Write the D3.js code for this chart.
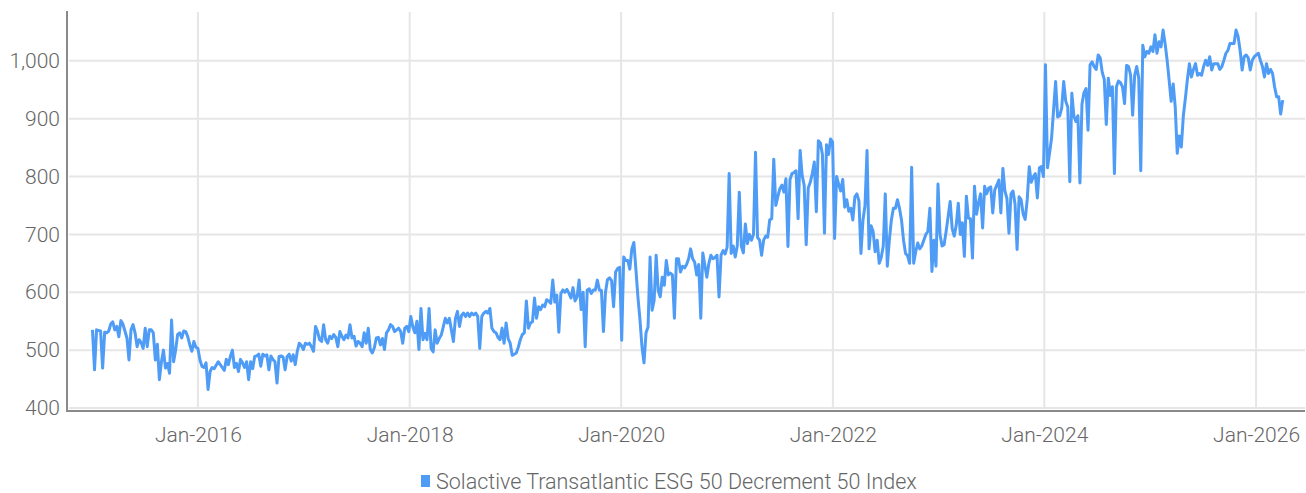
<!DOCTYPE html>
<html>
<head>
<meta charset="utf-8">
<script src="https://cdn.jsdelivr.net/npm/d3@7"></script>
<style>
  html, body { margin: 0; padding: 0; background: #fff; }
  svg { display: block; }
  text { font-family: Roboto, "Noto Sans", sans-serif; font-weight: 300; fill: #666; }
</style>
</head>
<body>
<svg id="chart" width="1306" height="493"></svg>
<script>
// ---- data (weekly closing values) ----
const seriesName = "Solactive Transatlantic ESG 50 Decrement 50 Index";
const firstDate = "2015-01-02"; // weekly observations from this date
const v2015 = [535,466,535,534,533,469,531,530,533,545,549,535,541,523,551,545,533,521,483,535,544,530,506,518,513,503,538,506,535,535,530,483,510,449,480,500,469,477,460,552,480,500,527,530,521,533,532,523,509,498,515,505];
const v2016 = [503,483,472,470,478,432,463,470,468,474,480,475,470,465,484,475,489,500,470,477,463,484,478,470,480,449,480,468,489,490,493,472,493,490,492,466,490,484,480,443,489,490,488,466,489,493,481,492,475,498,512,508,501];
const v2017 = [512,510,512,506,498,541,532,518,515,544,518,512,524,520,527,522,506,532,524,518,526,521,544,521,524,507,515,512,506,530,512,538,501,495,504,521,522,509,520,501,530,535,544,541,532,535,538,532,512,538,541,532];
const v2018 = [558,540,530,550,501,572,518,529,518,572,503,497,535,512,520,526,540,555,547,555,535,515,555,567,541,560,564,558,564,558,564,561,564,558,503,558,564,567,564,572,538,532,530,522,518,538,512,547,520,512,491,493];
const v2019 = [495,505,518,527,530,585,538,547,549,590,555,575,570,578,575,587,585,581,621,583,595,531,598,604,600,605,598,590,608,585,592,621,570,600,506,604,606,598,604,604,621,604,603,532,600,622,625,620,575,635,641,643];
const v2020 = [517,661,655,655,640,675,686,640,592,553,506,478,530,540,661,569,586,664,603,592,626,612,655,630,633,630,555,658,658,635,645,642,648,658,675,658,652,630,648,555,668,647,626,650,664,658,660,664,592,664,672,666,678];
const v2021 = [805,667,680,661,680,773,680,668,718,684,700,690,700,842,695,690,664,690,697,695,725,727,830,750,765,779,785,773,796,679,795,805,807,810,727,845,802,785,682,780,790,805,825,739,862,858,838,702,855,838,865,860,693];
const v2022 = [800,787,775,795,747,760,740,745,725,765,770,758,667,725,750,845,675,715,705,670,690,650,660,680,770,645,690,725,745,745,760,745,725,690,667,663,650,816,650,670,685,675,680,690,700,705,745,636,690,645,787,700];
const v2023 = [680,682,705,731,757,710,697,716,754,700,720,662,766,728,727,659,783,735,755,770,711,783,770,780,782,737,777,785,794,737,814,775,762,702,770,775,752,674,765,760,735,726,760,817,790,800,805,763,815,817,800,993];
const v2024 = [815,840,866,915,964,903,905,918,964,930,920,791,944,905,895,905,789,925,945,952,880,993,998,990,985,1010,1005,980,968,890,970,940,955,805,955,965,962,955,926,992,990,975,906,975,990,970,810,1027,1007,1016,1013,1024];
const v2025 = [1016,1045,1013,1033,1024,1053,1030,1001,966,930,960,920,840,870,851,905,935,968,995,972,985,995,975,978,975,990,1001,992,1007,984,995,995,995,985,990,1001,1013,1018,1030,1030,1030,1053,1042,1018,984,1007,1010,1005,984,1001,1007,1010];
const v2026 = [1013,1001,990,972,995,978,985,978,955,938,938,908,932];

const yTickValues = [400, 500, 600, 700, 800, 900, 1000];
const xTickDates = ["2016-01-01", "2018-01-01", "2020-01-01", "2022-01-01", "2024-01-01", "2026-01-01"];
const xTickLabels = ["Jan-2016", "Jan-2018", "Jan-2020", "Jan-2022", "Jan-2024", "Jan-2026"];

// ---- build ----
const parse = d3.timeParse("%Y-%m-%d");
const start = parse(firstDate);
const allValues = [].concat(v2015, v2016, v2017, v2018, v2019, v2020, v2021, v2022, v2023, v2024, v2025, v2026);
const data = allValues.map((v, i) => ({ date: d3.timeDay.offset(start, 7 * i), value: v }));

const svg = d3.select("#chart");
const lineColor = "#4f9cf6";

const x = d3.scaleTime()
  .domain([parse("2014-10-06"), parse("2026-06-19")])
  .range([67, 1305]);
const y = d3.scaleLinear()
  .domain([400, 1086])
  .range([408, 11]);

// gridlines
const grid = svg.append("g");
grid.selectAll("line.h").data(yTickValues).enter().append("line")
  .attr("x1", 69).attr("x2", 1305)
  .attr("y1", d => y(d)).attr("y2", d => y(d))
  .attr("stroke", "#e6e6e6").attr("stroke-width", 2);
grid.selectAll("line.v").data(xTickDates).enter().append("line")
  .attr("x1", d => x(parse(d))).attr("x2", d => x(parse(d)))
  .attr("y1", 12).attr("y2", 408)
  .attr("stroke", "#e6e6e6").attr("stroke-width", 2);

// series line
const line = d3.line().x(d => x(d.date)).y(d => y(d.value));
svg.append("path").datum(data)
  .attr("fill", "none")
  .attr("stroke", lineColor)
  .attr("stroke-width", 3)
  .attr("stroke-linejoin", "round")
  .attr("d", line);

// y axis
const yAxis = d3.axisLeft(y).tickValues(yTickValues).tickSize(0).tickPadding(7)
  .tickFormat(d3.format(","));
const gy = svg.append("g").attr("transform", "translate(67,0)").call(yAxis);
gy.select(".domain").remove();
gy.selectAll("text").style("font-size", "21px").style("font-family", "Roboto, sans-serif").attr("fill", "#666");
svg.append("line").attr("x1", 67).attr("x2", 67).attr("y1", 11).attr("y2", 412)
  .attr("stroke", "#8a8a8a").attr("stroke-width", 2);

// x axis
const xAxis = d3.axisBottom(x).tickValues(xTickDates.map(parse)).tickSize(0).tickPadding(16)
  .tickFormat((d, i) => xTickLabels[i]);
const gx = svg.append("g").attr("transform", "translate(0,411)").call(xAxis);
gx.select(".domain").remove();
gx.selectAll("text").style("font-size", "21px").style("font-family", "Roboto, sans-serif").attr("fill", "#666");
svg.append("line").attr("x1", 66).attr("x2", 1305).attr("y1", 411).attr("y2", 411)
  .attr("stroke", "#8a8a8a").attr("stroke-width", 2);

// legend
const lg = svg.append("g");
lg.append("rect").attr("x", 421).attr("y", 475).attr("width", 9).attr("height", 12).attr("fill", lineColor);
lg.append("text").attr("x", 436).attr("y", 481).attr("dy", "0.35em")
  .style("font-size", "21.5px").text(seriesName);
</script>
</body>
</html>
